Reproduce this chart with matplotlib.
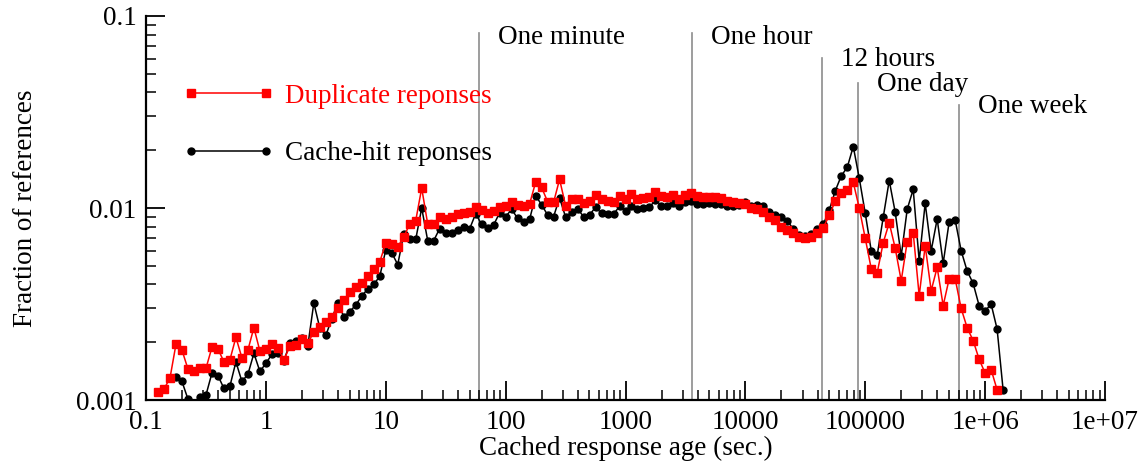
import numpy as np
import matplotlib
matplotlib.use('Agg')
import matplotlib.pyplot as plt
from matplotlib.ticker import LogLocator, NullFormatter

plt.rcParams['font.family'] = ['Liberation Serif', 'DejaVu Serif']
plt.rcParams['font.size'] = 19.5

# bins are 20 per decade, starting at 10^-0.9 seconds
first_exp = -0.9
bin_step = 0.05

# fraction of references, duplicate responses (red squares)
duplicate = [
    0.00110, 0.00114, 0.00130, 0.00195, 0.00182, 0.00145, 0.00142, 0.00146, 0.00146, 0.00188,
    0.00185, 0.00158, 0.00162, 0.00212, 0.00166, 0.00182, 0.00238, 0.00180, 0.00184, 0.00196,
    0.00187, 0.00162, 0.00190, 0.00193, 0.00207, 0.00197, 0.00227, 0.00239, 0.00256, 0.00272,
    0.00303, 0.00332, 0.00363, 0.00388, 0.00405, 0.00442, 0.00479, 0.00525, 0.00655, 0.00649,
    0.00629, 0.00706, 0.00825, 0.00859, 0.0127, 0.00825, 0.00825, 0.00901, 0.00877, 0.00901,
    0.00931, 0.00945, 0.00957, 0.0101, 0.00976, 0.00945, 0.00968, 0.0101, 0.0102, 0.0107,
    0.0104, 0.0102, 0.0105, 0.0136, 0.0128, 0.0108, 0.0107, 0.0141, 0.0103, 0.0112,
    0.0112, 0.0106, 0.0109, 0.0117, 0.0111, 0.0109, 0.0107, 0.0116, 0.0112, 0.0118,
    0.0111, 0.0113, 0.0114, 0.0121, 0.0115, 0.0114, 0.0117, 0.0112, 0.0117, 0.0119,
    0.0115, 0.0114, 0.0114, 0.0114, 0.0113, 0.0109, 0.0107, 0.0106, 0.0105, 0.0100,
    0.00985, 0.00957, 0.00901, 0.00866, 0.00799, 0.00768, 0.00738, 0.00704, 0.00695, 0.00704,
    0.00738, 0.00791, 0.00914, 0.0109, 0.0120, 0.0124, 0.0136, 0.0100, 0.00694, 0.00483,
    0.00461, 0.00660, 0.00838, 0.00617, 0.00418, 0.00668, 0.00744, 0.00349, 0.00636, 0.00371,
    0.00491, 0.00310, 0.00428, 0.00428, 0.00300, 0.00238, 0.00204, 0.00163, 0.00138, 0.00144,
    0.00113, np.nan,
]

# fraction of references, cache-hit responses (black circles)
cache_hit = [
    np.nan, np.nan, np.nan, 0.00132, 0.00125, 0.00101, 0.00095, 0.00104, 0.00106, 0.00138,
    0.00134, 0.00115, 0.00118, 0.00158, 0.00125, 0.00136, 0.00175, 0.00141, 0.00155, 0.00173,
    0.00176, 0.00160, 0.00197, 0.00204, 0.00210, 0.00192, 0.00320, 0.00237, 0.00217, 0.00265,
    0.00321, 0.00272, 0.00288, 0.00313, 0.00348, 0.00379, 0.00400, 0.00441, 0.00604, 0.00585,
    0.00507, 0.00732, 0.00686, 0.00686, 0.0100, 0.00676, 0.00676, 0.00782, 0.00744, 0.00741,
    0.00768, 0.00799, 0.00780, 0.00933, 0.00821, 0.00789, 0.00816, 0.00944, 0.00901, 0.00984,
    0.00884, 0.00843, 0.00873, 0.0116, 0.0104, 0.00920, 0.00901, 0.0113, 0.00898, 0.00953,
    0.00993, 0.00901, 0.00920, 0.0101, 0.00938, 0.00934, 0.00928, 0.0102, 0.00967, 0.0103,
    0.00990, 0.0100, 0.0101, 0.0110, 0.0103, 0.0102, 0.0106, 0.0102, 0.0107, 0.0109,
    0.0105, 0.0105, 0.0106, 0.0105, 0.0105, 0.0102, 0.0102, 0.0104, 0.0108, 0.0102,
    0.0104, 0.0102, 0.00957, 0.00920, 0.00895, 0.00859, 0.00775, 0.00723, 0.00715, 0.00732,
    0.00775, 0.00822, 0.00976, 0.0123, 0.0147, 0.0163, 0.0209, 0.0143, 0.00938, 0.00599,
    0.00569, 0.00895, 0.0139, 0.00950, 0.00562, 0.00985, 0.0125, 0.00530, 0.0106, 0.00599,
    0.00877, 0.00515, 0.00848, 0.00866, 0.00599, 0.00470, 0.00405, 0.00310, 0.00291, 0.00316,
    0.00234, 0.00113,
]

# reference ages (seconds) and where their labels sit
mark_ages = [60, 3600, 43200, 86400, 604800]
mark_names = ['One minute', 'One hour', '12 hours', 'One day', 'One week']
mark_tops = [0.0816, 0.0816, 0.0604, 0.0448, 0.0344]
mark_label_y = [0.0777, 0.0777, 0.0590, 0.0442, 0.0336]

x_ticks = [0.1, 1, 10, 100, 1000, 10000, 100000, 1e6, 1e7]
x_tick_labels = ['0.1', '1', '10', '100', '1000', '10000', '100000', '1e+06', '1e+07']
y_ticks = [0.001, 0.01, 0.1]
y_tick_labels = ['0.001', '0.01', '0.1']

ages = 10 ** (first_exp + bin_step * np.arange(len(duplicate)))

fig = plt.figure(figsize=(11.46, 4.65), dpi=100)
ax = fig.add_axes([146 / 1146, 1 - 400 / 465, 959 / 1146, 384 / 465])

# vertical reference lines
for age, top in zip(mark_ages, mark_tops):
    ax.plot([age, age], [0.001, top], color='#8c8c8c', lw=1.2, zorder=1)
for age, name, ly in zip(mark_ages, mark_names, mark_label_y):
    ax.text(age * 1.44, ly, name, va='center', ha='left')

h_cache, = ax.plot(ages, cache_hit, color='black', marker='o', markersize=5,
                   lw=1.1, label='Cache-hit reponses', zorder=3)
h_dup, = ax.plot(ages, duplicate, color='#ff0000', marker='s', markersize=5.5,
                 lw=1.1, label='Duplicate reponses', zorder=4)

ax.set_xscale('log')
ax.set_yscale('log')
ax.set_xlim(0.1, 1e7)
ax.set_ylim(0.001, 0.1)

ax.set_xticks(x_ticks)
ax.set_xticklabels(x_tick_labels)
ax.set_yticks(y_ticks)
ax.set_yticklabels(y_tick_labels)
ax.xaxis.set_minor_locator(LogLocator(base=10, subs=np.arange(2, 10), numticks=20))
ax.yaxis.set_minor_locator(LogLocator(base=10, subs=np.arange(2, 10), numticks=20))
ax.xaxis.set_minor_formatter(NullFormatter())
ax.yaxis.set_minor_formatter(NullFormatter())

ax.tick_params(which='major', direction='in', length=14, width=1.3, pad=7)
ax.tick_params(which='minor', direction='in', length=7, width=1.1)

for side in ['top', 'right']:
    ax.spines[side].set_visible(False)
for side in ['left', 'bottom']:
    ax.spines[side].set_linewidth(1.6)

ax.set_xlabel('Cached response age (sec.)')
ax.xaxis.set_label_coords(0.5, -0.094)
ax.set_ylabel('Fraction of references')
ax.yaxis.set_label_coords(-0.113, 0.5)

leg = ax.legend(handles=[h_dup, h_cache], loc='upper left',
                bbox_to_anchor=(0.0386, 0.824), frameon=False, numpoints=2,
                borderpad=0, borderaxespad=0,
                handlelength=3.35, handletextpad=0.4, labelspacing=1.2)
leg.get_texts()[0].set_color('#ff0000')

fig.savefig('out.png', dpi=100)
